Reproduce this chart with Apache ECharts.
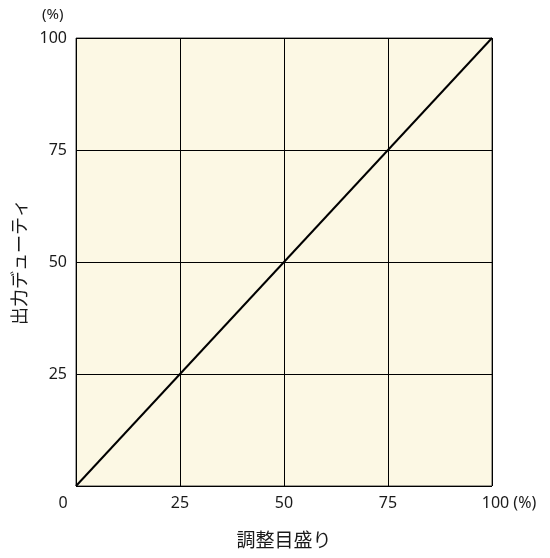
<!DOCTYPE html>
<html>
<head>
<meta charset="utf-8">
<script src="https://cdn.jsdelivr.net/npm/echarts@6/dist/echarts.min.js"></script>
<style>
html,body{margin:0;padding:0;background:#fff;}
#chart{width:550px;height:558px;}
</style>
</head>
<body>
<div id="chart"></div>
<script>
const xValues = [0, 100];
const yValues = [0, 100];
const tickValues = [0, 25, 50, 75, 100];
const xTitle = '調整目盛り';
const yTitle = '出力デューティ';
const unitLabel = '(%)';

const FONT = '"Noto Sans CJK JP", "Noto Sans", sans-serif';
const NUM = '"Noto Sans", "Noto Sans CJK JP", sans-serif';
const TXT = '#1a1a1a';
const chart = echarts.init(document.getElementById('chart'));
chart.setOption({
  animation: false,
  grid: {
    left: 76, right: 58, top: 38, bottom: 72,
    show: true, backgroundColor: '#fcf8e4', borderColor: '#444', borderWidth: 1
  },
  xAxis: {
    type: 'value', min: 0, max: 100, interval: 25,
    name: xTitle, nameLocation: 'middle', nameGap: 44,
    nameTextStyle: {fontFamily: FONT, fontSize: 19, color: TXT},
    axisLine: {show: false}, axisTick: {show: false},
    splitLine: {show: true, lineStyle: {color: '#000', width: 1}},
    axisLabel: {
      margin: 9, fontFamily: NUM, fontSize: 16, color: TXT,
      formatter: function (v) {
        if (v === 0) return '{z|0}';
        if (v === 100) return '{m|100 ' + unitLabel + '}';
        return String(v);
      },
      rich: {
        z: {fontFamily: NUM, fontSize: 16, color: TXT, padding: [0, 26, 0, 0]},
        m: {fontFamily: NUM, fontSize: 16, color: TXT, padding: [0, 0, 0, 34]}
      }
    }
  },
  yAxis: {
    type: 'value', min: 0, max: 100, interval: 25,
    name: yTitle, nameLocation: 'middle', nameGap: 45, nameRotate: 90,
    nameTextStyle: {fontFamily: FONT, fontSize: 18, color: TXT},
    axisLine: {show: false}, axisTick: {show: false},
    splitLine: {show: true, lineStyle: {color: '#000', width: 1}},
    axisLabel: {
      margin: 9, fontFamily: NUM, fontSize: 16, color: TXT,
      formatter: function (v) { return v === 0 ? '' : String(v); }
    }
  },
  graphic: [{
    type: 'text', left: 42, top: 7,
    style: {text: unitLabel, fontFamily: NUM, fontSize: 15, fill: TXT}
  }],
  series: [{
    type: 'line',
    data: xValues.map((x, i) => [x, yValues[i]]),
    symbol: 'none',
    lineStyle: {color: '#000', width: 2}
  }]
});
</script>
</body>
</html>
